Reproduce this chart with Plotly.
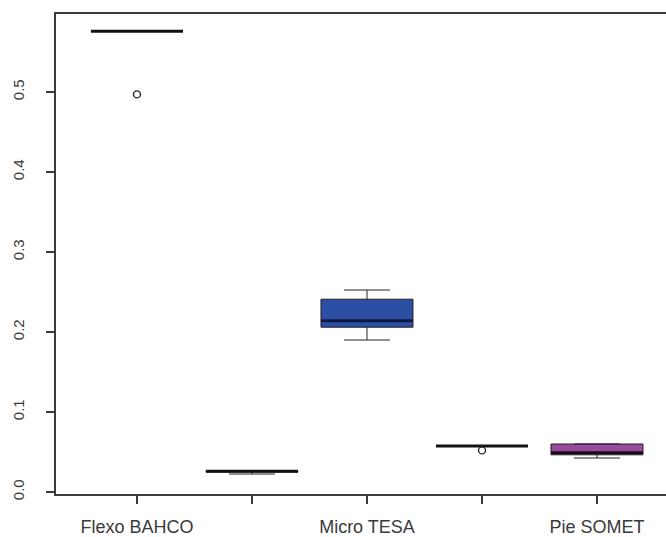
import plotly.graph_objects as go

# Instrument positions along the x axis and their labels (every other slot labelled)
positions = [1, 2, 3, 4, 5]
tick_labels = ["Flexo BAHCO", "", "Micro TESA", "", "Pie SOMET"]

# Five-number summaries per group
lower_whisker = [0.576, 0.0225, 0.190, 0.0575, 0.0425]
q1_vals = [0.576, 0.0250, 0.206, 0.0575, 0.0465]
medians = [0.576, 0.0260, 0.214, 0.0575, 0.0490]
q3_vals = [0.576, 0.0260, 0.241, 0.0575, 0.0600]
upper_whisker = [0.576, 0.0260, 0.2525, 0.0575, 0.0600]

# Outlying observations (group position, value)
outlier_x = [1, 4]
outlier_y = [0.497, 0.052]

fill_colors = ["white", "white", "#2c4fa3", "white", "#9b4b9f"]
median_colors = ["#111111", "#111111", "#101a40", "#111111", "#1a0a1c"]

box_width = 0.8
ink = "#3a3a3a"

fig = go.Figure()

for i, pos in enumerate(positions):
    fig.add_trace(go.Box(
        x=[pos],
        q1=[q1_vals[i]], median=[medians[i]], q3=[q3_vals[i]],
        lowerfence=[lower_whisker[i]], upperfence=[upper_whisker[i]],
        width=box_width,
        whiskerwidth=0.5,
        fillcolor=fill_colors[i],
        line=dict(color="#222222", width=1),
        boxpoints=False,
        showlegend=False,
        hoverinfo="skip",
    ))
    # heavy median bar drawn across the full box width
    fig.add_trace(go.Scatter(
        x=[pos - box_width / 2, pos + box_width / 2],
        y=[medians[i], medians[i]],
        mode="lines",
        line=dict(color=median_colors[i], width=3),
        showlegend=False,
        hoverinfo="skip",
    ))

fig.add_trace(go.Scatter(
    x=outlier_x, y=outlier_y,
    mode="markers",
    marker=dict(symbol="circle-open", size=7, color="#222222", line=dict(width=1.4)),
    showlegend=False,
    hoverinfo="skip",
))

fig.update_layout(
    width=666, height=537,
    margin=dict(l=56, r=0, t=14, b=43),
    paper_bgcolor="white",
    plot_bgcolor="white",
    boxmode="overlay",
    font=dict(family="Liberation Sans, Arial, sans-serif", color=ink),
    xaxis=dict(
        range=[0.296, 5.6],
        tickmode="array", tickvals=positions, ticktext=tick_labels,
        ticks="outside", ticklen=8, tickwidth=1.5, tickcolor=ink,
        ticklabelstandoff=8,
        showline=True, linecolor=ink, linewidth=1.5, mirror=True,
        showgrid=False, zeroline=False,
        tickfont=dict(size=18, color=ink),
    ),
    yaxis=dict(
        range=[-0.0025, 0.5975],
        tickmode="array", tickvals=[0.0, 0.1, 0.2, 0.3, 0.4, 0.5],
        ticktext=["0.0", "0.1", "0.2", "0.3", "0.4", "0.5"],
        tickangle=-90,
        ticks="outside", ticklen=8, tickwidth=1.5, tickcolor=ink,
        ticklabelstandoff=16,
        showline=True, linecolor=ink, linewidth=1.5, mirror=False,
        showgrid=False, zeroline=False,
        tickfont=dict(size=15, color=ink),
    ),
)

fig.write_html("out.html")
